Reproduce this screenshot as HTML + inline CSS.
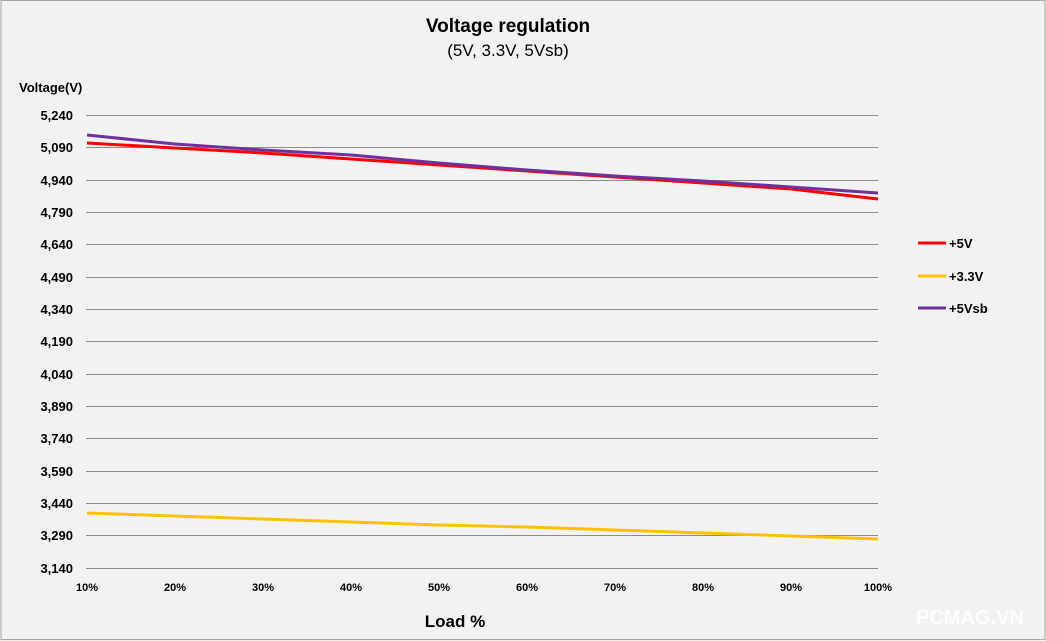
<!DOCTYPE html>
<html><head><meta charset="utf-8"><style>
html,body{margin:0;padding:0;width:1046px;height:641px;overflow:hidden;background:#f2f2f2;}
svg{display:block;font-family:"Liberation Sans",Arial,sans-serif;}
</style></head><body>
<svg width="1046" height="641" viewBox="0 0 1046 641" xmlns="http://www.w3.org/2000/svg">
<rect x="0" y="0" width="1046" height="641" fill="#f2f2f2"/>
<rect x="1" y="0.5" width="1044" height="639" fill="none" stroke="#a6a6a6" stroke-width="1"/>
<text x="508" y="32" text-anchor="middle" font-size="19" font-weight="bold" fill="#000">Voltage regulation</text>
<text x="508" y="56" text-anchor="middle" font-size="17" fill="#000">(5V, 3.3V, 5Vsb)</text>
<text x="19" y="92" font-size="13" font-weight="bold" fill="#000">Voltage(V)</text>
<g stroke="#8c8c8c" stroke-width="1">
<line x1="86" x2="878" y1="115.5" y2="115.5"/><line x1="86" x2="878" y1="147.5" y2="147.5"/>
<line x1="86" x2="878" y1="180.5" y2="180.5"/><line x1="86" x2="878" y1="212.5" y2="212.5"/>
<line x1="86" x2="878" y1="244.5" y2="244.5"/><line x1="86" x2="878" y1="277.5" y2="277.5"/>
<line x1="86" x2="878" y1="309.5" y2="309.5"/><line x1="86" x2="878" y1="341.5" y2="341.5"/>
<line x1="86" x2="878" y1="374.5" y2="374.5"/><line x1="86" x2="878" y1="406.5" y2="406.5"/>
<line x1="86" x2="878" y1="438.5" y2="438.5"/><line x1="86" x2="878" y1="471.5" y2="471.5"/>
<line x1="86" x2="878" y1="503.5" y2="503.5"/><line x1="86" x2="878" y1="535.5" y2="535.5"/>
<line x1="86" x2="878" y1="568.5" y2="568.5"/>
</g>
<g font-size="13" font-weight="bold" text-anchor="end" fill="#000">
<text x="73" y="120">5,240</text><text x="73" y="152">5,090</text><text x="73" y="185">4,940</text>
<text x="73" y="217">4,790</text><text x="73" y="249">4,640</text><text x="73" y="282">4,490</text>
<text x="73" y="314">4,340</text><text x="73" y="346">4,190</text><text x="73" y="379">4,040</text>
<text x="73" y="411">3,890</text><text x="73" y="443">3,740</text><text x="73" y="476">3,590</text>
<text x="73" y="508">3,440</text><text x="73" y="540">3,290</text><text x="73" y="573">3,140</text>
</g>
<g font-size="11" font-weight="bold" text-anchor="middle" fill="#000">
<text x="87" y="591">10%</text><text x="175" y="591">20%</text><text x="263" y="591">30%</text>
<text x="351" y="591">40%</text><text x="439" y="591">50%</text><text x="527" y="591">60%</text>
<text x="615" y="591">70%</text><text x="703" y="591">80%</text><text x="791" y="591">90%</text>
<text x="878" y="591">100%</text>
</g>
<text x="455" y="627" text-anchor="middle" font-size="17" font-weight="bold" fill="#000">Load %</text>
<polyline fill="none" stroke="#ffc000" stroke-width="3" points="87,513 175,516 263,519 351,522 439,525 527,527 615,530 703,533 791,536 878,539"/>
<polyline fill="none" stroke="#ff0000" stroke-width="3" points="87,143 175,148 263,153 351,159 439,165 527,171 615,177 703,183 791,189 878,199"/>
<polyline fill="none" stroke="#7030a0" stroke-width="3" points="87,135 175,144 263,150 351,155 439,163 527,170 615,176 703,181 791,187 878,193"/>
<line x1="918" x2="946" y1="243" y2="243" stroke="#ff0000" stroke-width="3"/>
<line x1="918" x2="946" y1="276" y2="276" stroke="#ffc000" stroke-width="3"/>
<line x1="918" x2="946" y1="308" y2="308" stroke="#7030a0" stroke-width="3"/>
<g font-size="13" font-weight="bold" fill="#000">
<text x="949" y="248">+5V</text><text x="949" y="281">+3.3V</text><text x="949" y="313">+5Vsb</text>
</g>
<text x="970" y="624" text-anchor="middle" font-size="20" font-weight="bold" fill="#ffffff" opacity="0.9">PCMAG.VN</text>
</svg>
</body></html>
